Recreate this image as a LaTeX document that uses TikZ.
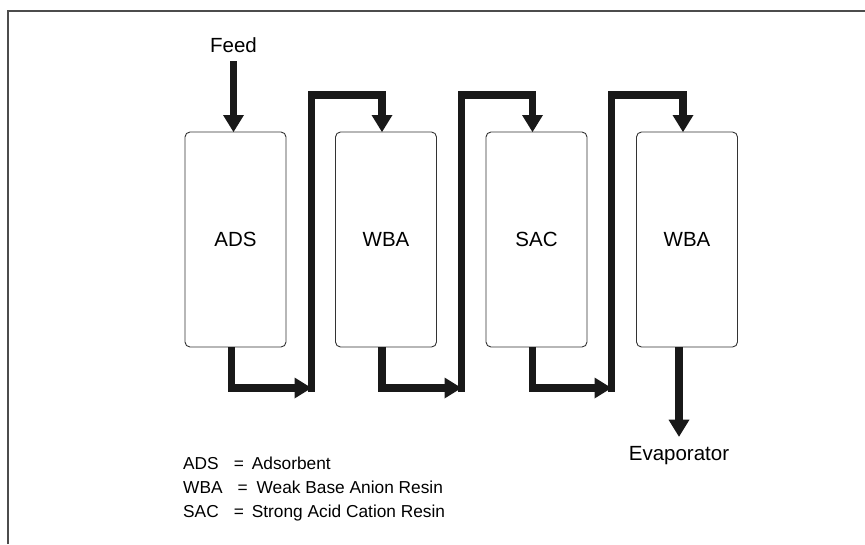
\documentclass[tikz,border=0pt]{standalone}
\usepackage{fontspec}
\setmainfont{Liberation Sans}
\usetikzlibrary{positioning,arrows.meta}

\begin{document}
\begin{tikzpicture}[
  x=1pt, y=-1pt,
  font=\fontsize{20.5}{24}\selectfont,
  node distance=0pt and 49.5pt,
  column/.style={
    rectangle, rounded corners=5pt, draw=black!80, line width=0.9pt,
    minimum width=101pt, minimum height=215pt, outer sep=0pt, inner sep=0pt
  },
  flow/.style={
    line width=7.5pt, draw=black!90, line join=miter,
    -{Triangle[length=17pt,width=21pt,line width=0pt]}
  },
  tag/.style={inner sep=9pt},
  key/.style={anchor=base west, inner sep=0pt, font=\fontsize{17.3}{20}\selectfont},
  frame/.style={line width=1.5pt, draw=black!70}
]
\useasboundingbox (0,0) rectangle (865,544);
\draw[frame] (8,544) -- (8,11) -- (865,11);

% ion exchange train
\node[column] (ads) at (235.5,239.5) {ADS};
\node[column, right=of ads] (wba1) {WBA};
\node[column, right=of wba1] (sac) {SAC};
\node[column, right=of sac] (wba2) {WBA};

\node[tag, anchor=base] (feed) at (233.5,52) {Feed};
\node[tag, anchor=base] (evap) at (679,460) {Evaporator};

\coordinate (b1) at (311.5,388);
\coordinate (t1) at (311.5,95);
\coordinate (b2) at (461.5,388);
\coordinate (t2) at (461.5,95);
\coordinate (b3) at (611.5,388);
\coordinate (t3) at (611.5,95);

\draw[flow] (feed.south) -- (feed.south |- ads.north);

\draw[flow] ([xshift=-4pt]ads.south) |- (b1);
\draw[flow] ([yshift=-4pt]b1) -- (t1) -| ([xshift=-4pt]wba1.north);
\draw[flow] ([xshift=-4pt]wba1.south) |- (b2);
\draw[flow] ([yshift=-4pt]b2) -- (t2) -| ([xshift=-4pt]sac.north);
\draw[flow] ([xshift=-4pt]sac.south) |- (b3);
\draw[flow] ([yshift=-4pt]b3) -- (t3) -| ([xshift=-4pt]wba2.north);

\draw[flow] (evap.north |- wba2.south) -- (evap.north);

% legend
\node[key] (k1) at (183,469) {ADS\hspace{15pt}=\hspace{8pt}Adsorbent};
\node[key] (k2) at (183,493) {WBA\hspace{15pt}=\hspace{9pt}Weak Base Anion Resin};
\node[key] (k3) at (183,517) {SAC\hspace{15pt}=\hspace{8pt}Strong Acid Cation Resin};
\end{tikzpicture}
\end{document}
